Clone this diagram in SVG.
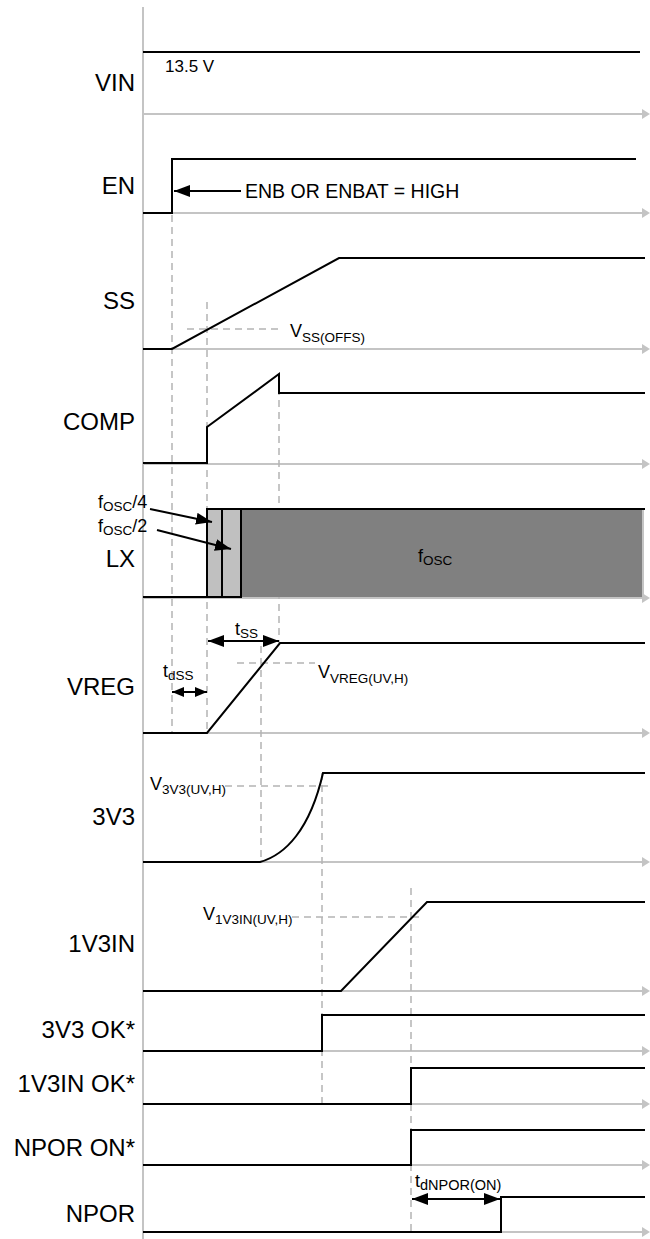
<svg xmlns="http://www.w3.org/2000/svg" width="650" height="1239" viewBox="0 0 650 1239">
<defs>
<style>
text{font-family:"Liberation Sans",Arial,sans-serif;fill:#000}
.lbl{font-size:24px;text-anchor:end}
.ann{font-size:18px}
.sub{font-size:13.5px}
.sig{stroke:#000;stroke-width:2;fill:none;stroke-linejoin:miter}
.axis{stroke:#c4c4c4;stroke-width:2;fill:none}
.dash{stroke:#b4b4b4;stroke-width:1.5;stroke-dasharray:7 5;fill:none}
.arr{stroke:#000;stroke-width:2;fill:none}
</style>
<marker id="ax" viewBox="0 0 8 10" refX="0" refY="5" markerWidth="8" markerHeight="10" markerUnits="userSpaceOnUse" orient="auto"><path d="M0,0L8,5L0,10z" fill="#c4c4c4"/></marker>
<marker id="ah" viewBox="0 0 16 12" refX="16" refY="6" markerWidth="16" markerHeight="12" markerUnits="userSpaceOnUse" orient="auto-start-reverse"><path d="M0,0L16,6L0,12z" fill="#000"/></marker>
<marker id="ahs" viewBox="0 0 12 10" refX="12" refY="5" markerWidth="12" markerHeight="10" markerUnits="userSpaceOnUse" orient="auto-start-reverse"><path d="M0,0L12,5L0,10z" fill="#000"/></marker>
</defs>
<rect width="650" height="1239" fill="#fff"/>

<g id="axes">
<line class="axis" x1="143" y1="7" x2="143" y2="1239"/>
<line class="axis" x1="143" y1="114" x2="642" y2="114" marker-end="url(#ax)"/>
<line class="axis" x1="143" y1="213" x2="642" y2="213" marker-end="url(#ax)"/>
<line class="axis" x1="143" y1="349" x2="642" y2="349" marker-end="url(#ax)"/>
<line class="axis" x1="143" y1="464" x2="642" y2="464" marker-end="url(#ax)"/>
<line class="axis" x1="143" y1="598" x2="642" y2="598" marker-end="url(#ax)"/>
<line class="axis" x1="143" y1="733" x2="642" y2="733" marker-end="url(#ax)"/>
<line class="axis" x1="143" y1="862" x2="642" y2="862" marker-end="url(#ax)"/>
<line class="axis" x1="143" y1="991" x2="642" y2="991" marker-end="url(#ax)"/>
<line class="axis" x1="143" y1="1051" x2="642" y2="1051" marker-end="url(#ax)"/>
<line class="axis" x1="143" y1="1104" x2="642" y2="1104" marker-end="url(#ax)"/>
<line class="axis" x1="143" y1="1165" x2="642" y2="1165" marker-end="url(#ax)"/>
<line class="axis" x1="143" y1="1232" x2="642" y2="1232" marker-end="url(#ax)"/>
</g>

<g id="guides">
<line class="dash" x1="172" y1="215" x2="172" y2="733"/>
<line class="dash" x1="207" y1="302" x2="207" y2="733"/>
<line class="dash" x1="279" y1="376" x2="279" y2="643"/>
<line class="dash" x1="261" y1="646" x2="261" y2="862"/>
<line class="dash" x1="322" y1="773" x2="322" y2="1108"/>
<line class="dash" x1="411" y1="888" x2="411" y2="1235"/>
<line class="dash" x1="187" y1="329" x2="281" y2="329"/>
<line class="dash" x1="237" y1="663" x2="315" y2="663"/>
<line class="dash" x1="225" y1="786" x2="331" y2="786"/>
<line class="dash" x1="292" y1="917" x2="420" y2="917"/>
</g>

<g id="vin">
<text class="lbl" x="135" y="91">VIN</text>
<path class="sig" d="M143,52H640"/>
<text style="font-size:17px" x="165" y="72">13.5 V</text>
</g>
<g id="en">
<text class="lbl" x="135" y="194">EN</text>
<path class="sig" d="M143,213H172V159H636"/>
<text style="font-size:19.5px" x="245" y="198">ENB OR ENBAT = HIGH</text>
</g>
<g id="ss">
<text class="lbl" x="135" y="309">SS</text>
<path class="sig" d="M143,349H172L339,258H645"/>
<text class="ann" x="290" y="337">V<tspan class="sub" dy="5">SS(OFFS)</tspan></text>
</g>
<g id="comp">
<text class="lbl" x="135" y="430">COMP</text>
<path class="sig" d="M143,463H207V427L279,374V393H645"/>
</g>
<g id="lx">
<text class="lbl" x="135" y="567">LX</text>
<rect x="241" y="509" width="402" height="88" fill="#808080"/>
<rect x="207" y="509" width="15" height="88" fill="#c0c0c0" stroke="#000" stroke-width="2"/>
<rect x="222" y="509" width="19" height="88" fill="#c0c0c0" stroke="#000" stroke-width="2"/>
<line x1="643" y1="509" x2="643" y2="597" stroke="#c4c4c4" stroke-width="2"/>
<path class="sig" d="M143,597H207M207,509H645"/>
<text class="ann" x="98" y="508">f<tspan class="sub" dy="3">OSC</tspan><tspan dy="-3">/4</tspan></text>
<text class="ann" x="98" y="532">f<tspan class="sub" dy="3">OSC</tspan><tspan dy="-3">/2</tspan></text>
<text class="ann" x="418" y="562">f<tspan class="sub" dy="3">OSC</tspan></text>
</g>
<g id="vreg">
<text class="lbl" x="135" y="695">VREG</text>
<path class="sig" d="M143,733H207L280,643H645"/>
<text class="ann" x="235" y="635">t<tspan class="sub" dy="3">SS</tspan></text>
<text class="ann" x="163" y="677">t<tspan class="sub" dy="3">dSS</tspan></text>
<text class="ann" x="318" y="678">V<tspan class="sub" dy="5">VREG(UV,H)</tspan></text>
</g>
<g id="v3v3">
<text class="lbl" x="135" y="825">3V3</text>
<path class="sig" d="M143,862H260C285,855 310,830 323,773H645"/>
<text class="ann" x="150" y="790">V<tspan class="sub" dy="4">3V3(UV,H)</tspan></text>
</g>
<g id="v1v3in">
<text class="lbl" x="135" y="952">1V3IN</text>
<path class="sig" d="M143,991H341L427,902H645"/>
<text class="ann" x="203" y="920">V<tspan class="sub" dy="4">1V3IN(UV,H)</tspan></text>
</g>
<g id="ok3v3">
<text class="lbl" x="135" y="1038">3V3 OK*</text>
<path class="sig" d="M143,1051H322V1015H645"/>
</g>
<g id="ok1v3in">
<text class="lbl" x="135" y="1092">1V3IN OK*</text>
<path class="sig" d="M143,1104H411V1068H645"/>
</g>
<g id="nporon">
<text class="lbl" x="135" y="1156">NPOR ON*</text>
<path class="sig" d="M143,1165H411V1130H645"/>
</g>
<g id="npor">
<text class="lbl" x="135" y="1222">NPOR</text>
<path class="sig" d="M143,1232H501V1197H645"/>
<text class="ann" x="415" y="1187">t<tspan class="sub" style="font-size:14.5px" dy="3">dNPOR(ON)</tspan></text>
</g>

<g id="connectors">
<line class="arr" x1="241" y1="191" x2="174" y2="191" marker-end="url(#ah)"/>
<line class="arr" x1="150" y1="509" x2="212" y2="522" marker-end="url(#ah)"/>
<line class="arr" x1="157" y1="530" x2="231" y2="549" marker-end="url(#ah)"/>
<line class="arr" x1="208" y1="641" x2="279" y2="641" marker-start="url(#ah)" marker-end="url(#ah)"/>
<line class="arr" x1="172" y1="692" x2="207" y2="692" marker-start="url(#ahs)" marker-end="url(#ahs)"/>
<line class="arr" x1="412" y1="1199" x2="500" y2="1199" marker-start="url(#ah)" marker-end="url(#ah)"/>
</g>
</svg>
